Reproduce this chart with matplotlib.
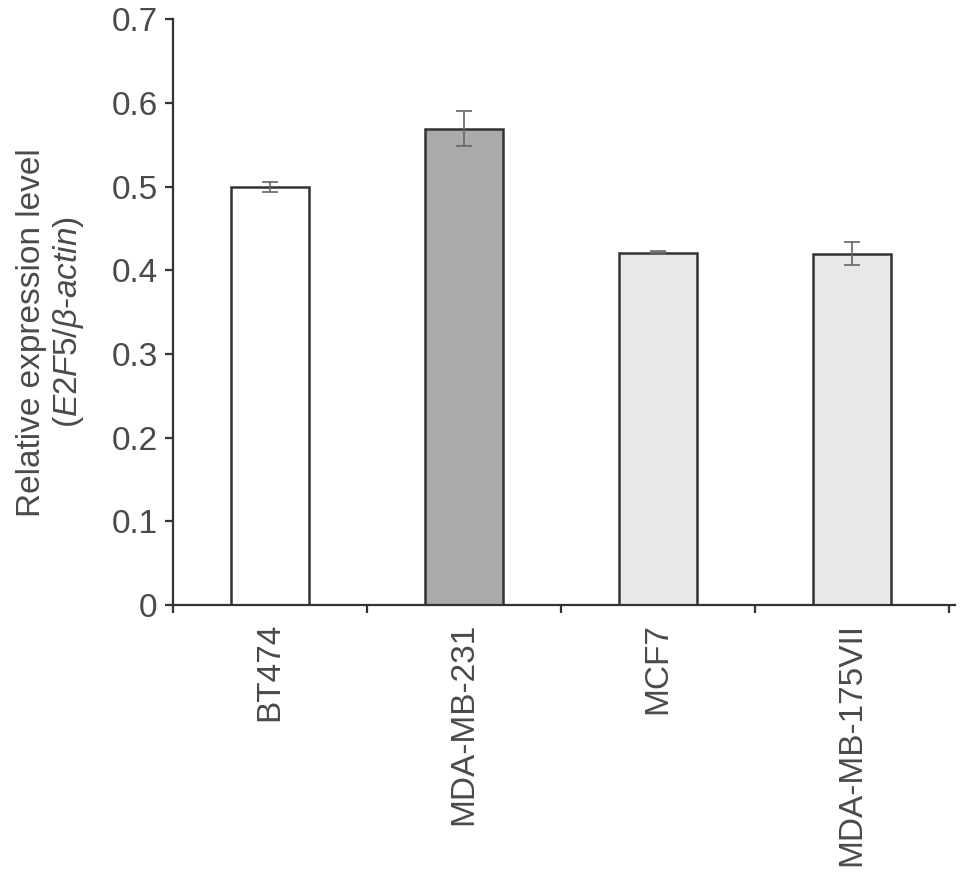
import numpy as np
import matplotlib
matplotlib.use("Agg")
from matplotlib import pyplot as plt

cells = ["BT474", "MDA-MB-231", "MCF7", "MDA-MB-175VII"]
expr = [0.499, 0.569, 0.421, 0.420]
err = [0.006, 0.021, 0.002, 0.014]
colors = ["#ffffff", "#aaaaaa", "#e8e8e8", "#e8e8e8"]

plt.rcParams['font.family'] = ['Liberation Sans', 'DejaVu Sans']
plt.rcParams['mathtext.fontset'] = 'custom'
plt.rcParams['mathtext.rm'] = 'Liberation Sans'
plt.rcParams['mathtext.it'] = 'Liberation Sans:italic'

txt = "#4a4a4a"
fig = plt.figure(figsize=(9.69, 8.73), dpi=100)
ax = fig.add_axes([0.1785, 0.307, 0.807, 0.671])

x = np.arange(len(cells))
ax.bar(x, expr, width=0.4, color=colors, edgecolor="#333333", linewidth=1.8, zorder=2)
ax.errorbar(x, expr, yerr=err, fmt="none", ecolor="#666666", elinewidth=1.2,
            capsize=6, capthick=1.2, zorder=3)

ax.set_xlim(-0.5, 3.53)
ax.set_ylim(0, 0.7)
ax.set_yticks(np.arange(0, 0.71, 0.1))
ax.set_yticklabels(["0", "0.1", "0.2", "0.3", "0.4", "0.5", "0.6", "0.7"])
ax.set_xticks(x)
ax.set_xticklabels(cells, rotation=90)
ax.set_xticks(np.arange(-0.5, 3.6, 1), minor=True)

for s in ["top", "right"]:
    ax.spines[s].set_visible(False)
for s in ["left", "bottom"]:
    ax.spines[s].set_color("#333333")
    ax.spines[s].set_linewidth(1.6)

ax.tick_params(axis="y", direction="out", length=6, width=1.6, color="#333333",
               labelsize=24, labelcolor=txt, pad=5)
ax.tick_params(axis="x", which="major", length=0, labelsize=24, labelcolor=txt, pad=13)
ax.tick_params(axis="x", which="minor", direction="out", length=6, width=1.6, color="#333333")

fig.text(0.033, 1 - 333 / 873, "Relative expression level", rotation=90,
         fontsize=24, color=txt, ha="center", va="center")
fig.text(0.071, 1 - 322 / 873, r"($\mathit{E2F5/\beta}$-$\mathit{actin}$)", rotation=90,
         fontsize=24, color=txt, ha="center", va="center")

fig.savefig("out.png", dpi=100)
